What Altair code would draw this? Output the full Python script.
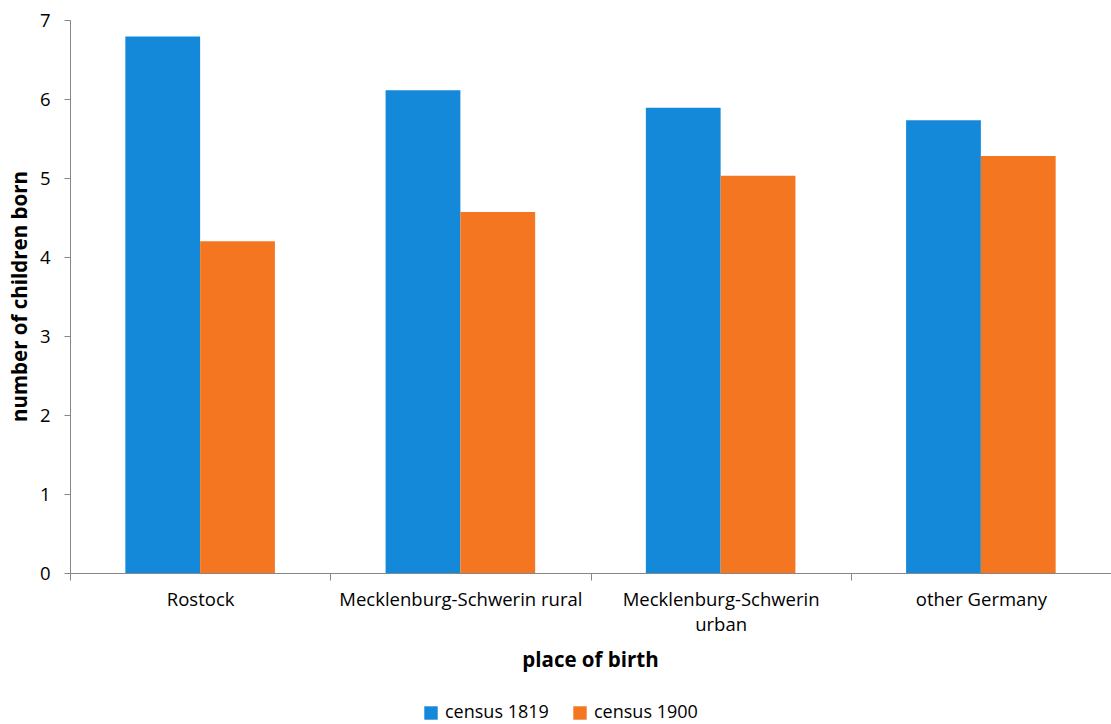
import altair as alt
import pandas as pd

# Average number of children born, by mother's place of birth
places = ["Rostock", "Mecklenburg-Schwerin rural", "Mecklenburg-Schwerin urban", "other Germany"]
census_1819 = [6.79, 6.11, 5.89, 5.73]
census_1900 = [4.20, 4.57, 5.03, 5.28]
series = ["census 1819", "census 1900"]
colors = ["#1589d9", "#f47621"]

rows = []
for p, a, b in zip(places, census_1819, census_1900):
    rows.append({"place": p, "census": series[0], "children": a})
    rows.append({"place": p, "census": series[1], "children": b})
df = pd.DataFrame(rows)

FONT = "Open Sans"
TEXT_SIZE = 18.5
TITLE_SIZE = 20.5

label_expr = (
    "datum.label == 'Mecklenburg-Schwerin urban' ? "
    "['Mecklenburg-Schwerin', 'urban'] : datum.label"
)

chart = (
    alt.Chart(df)
    .mark_bar()
    .encode(
        x=alt.X(
            "place:N",
            sort=places,
            scale=alt.Scale(paddingInner=0, paddingOuter=0),
            axis=alt.Axis(
                title="place of birth",
                labelAngle=0,
                labelExpr=label_expr,
                labelPadding=10,
                labelFontSize=TEXT_SIZE,
                labelLineHeight=25,
                labelLimit=400,
                tickBand="extent",
                tickSize=7,
                titleFontSize=TITLE_SIZE,
                titleFontWeight="bold",
                titleX=520,
                titleY=87,
                titleBaseline="middle",
            ),
        ),
        xOffset=alt.XOffset(
            "census:N",
            sort=series,
            scale=alt.Scale(paddingInner=0, paddingOuter=0.74),
        ),
        y=alt.Y(
            "children:Q",
            scale=alt.Scale(domain=[0, 7], nice=False),
            axis=alt.Axis(
                title="number of children born",
                values=[0, 1, 2, 3, 4, 5, 6, 7],
                format="d",
                grid=False,
                tickSize=6,
                labelPadding=14,
                labelFontSize=TEXT_SIZE,
                titleFontSize=TITLE_SIZE,
                titleFontWeight="bold",
                titleX=-50,
                titleY=276,
                titleAngle=270,
                titleAlign="center",
                titleBaseline="middle",
            ),
        ),
        color=alt.Color(
            "census:N",
            sort=series,
            scale=alt.Scale(domain=series, range=colors),
            legend=alt.Legend(
                title=None,
                orient="none",
                direction="horizontal",
                legendX=352,
                legendY=684,
                symbolType="square",
                symbolSize=180,
                symbolStrokeWidth=0,
                labelFontSize=18,
                labelOffset=5,
                columnPadding=22,
            ),
        ),
    )
    .properties(
        width=1041,
        height=553,
        autosize=alt.AutoSizeParams(type="none"),
        padding={"left": 70, "top": 20, "right": 0, "bottom": 151},
    )
    .configure(font=FONT)
    .configure_view(stroke=None)
    .configure_axis(
        domainColor="#868686",
        tickColor="#868686",
        labelColor="#000000",
        titleColor="#000000",
        labelFont=FONT,
        titleFont=FONT,
    )
    .configure_legend(labelFont=FONT, labelColor="#000000")
)

chart.save("out.html", embed_options={"renderer": "svg", "actions": False})
